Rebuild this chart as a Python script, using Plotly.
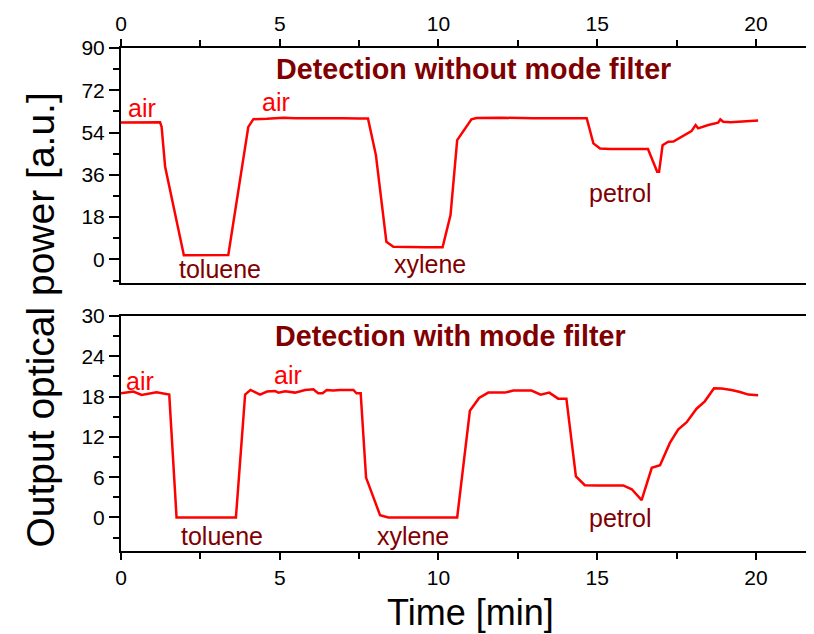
import plotly.graph_objects as go

# ---- data ----
time_top = [0, 0.5, 1.0, 1.23, 1.28, 1.39, 1.98, 2.5, 3.0, 3.38, 4.01, 4.17, 4.6, 5.11, 5.5, 6.0,
            6.5, 7.0, 7.5, 7.78, 8.03, 8.36, 8.58, 9.1, 9.6, 10.13, 10.38, 10.59, 10.73, 11.04, 11.2,
            12.0, 13.0, 14.0, 14.67, 14.88, 15.09, 15.4, 16.0, 16.6, 16.89, 16.95, 17.06, 17.24, 17.4,
            17.61, 17.82, 17.97, 18.1, 18.18, 18.5, 18.81, 18.88, 18.97, 19.2, 19.6, 20.07]
power_top = [58.3, 58.3, 58.3, 58.4, 56.4, 39.4, 1.8, 1.8, 1.9, 1.9, 56.4, 59.7, 59.9, 60.3, 60.1, 60.2,
             60.0, 60.1, 60.0, 60.0, 44.4, 7.5, 5.4, 5.2, 5.2, 5.2, 18.9, 50.8, 53.6, 59.6, 60.2,
             60.3, 60.1, 60.1, 60.1, 49.4, 47.2, 47.0, 47.0, 47.0, 37.3, 37.3, 48.6, 50.1, 50.2,
             51.9, 53.6, 54.6, 57.2, 55.8, 57.2, 58.2, 59.6, 58.6, 58.4, 58.7, 59.1]

time_bottom = [0, 0.39, 0.65, 1.12, 1.52, 1.75, 2.5, 3.0, 3.62, 3.91, 4.08, 4.38, 4.6, 4.85, 4.96,
               5.17, 5.48, 5.8, 6.06, 6.21, 6.35, 6.48, 6.69, 6.9, 7.11, 7.32, 7.42, 7.55, 7.72, 8.16,
               8.42, 9.0, 9.5, 10.0, 10.59, 10.99, 11.28, 11.57, 12.09, 12.36, 12.62, 12.93, 13.22,
               13.49, 13.77, 14.03, 14.33, 14.61, 14.98, 15.4, 15.82, 16.09, 16.4, 16.72, 16.98,
               17.29, 17.55, 17.82, 18.13, 18.39, 18.68, 18.92, 19.23, 19.5, 19.76, 20.07]
power_bottom = [18.5, 18.76, 18.26, 18.65, 18.3, 0, 0, 0, 0, 18.3, 19.0, 18.3, 18.76, 18.85, 18.6,
                18.8, 18.6, 19.0, 19.1, 18.5, 18.5, 19.0, 18.9, 19.0, 18.95, 19.0, 18.5, 18.5, 5.94, 0.34,
                0, 0, 0, 0, 0, 15.9, 17.8, 18.6, 18.6, 18.9, 18.85, 18.9, 18.3,
                18.6, 17.7, 17.7, 6.13, 4.8, 4.75, 4.75, 4.77, 4.2, 2.57, 7.4, 7.77,
                11.1, 13.1, 14.2, 16.2, 17.3, 19.25, 19.2, 19.0, 18.7, 18.3, 18.2]

x_ticks = [0, 5, 10, 15, 20]
y_ticks_top = [0, 18, 36, 54, 72, 90]
y_ticks_bottom = [0, 6, 12, 18, 24, 30]

title_top = "Detection without mode filter"
title_bottom = "Detection with mode filter"
labels_top = [("air", 0.65, 64.3, "#ff0000"), ("air", 4.88, 67.2, "#ff0000"),
              ("toluene", 3.13, -4.26, "#800000"), ("xylene", 9.73, -2.13, "#800000"),
              ("petrol", 15.75, 28.2, "#800000")]
labels_bottom = [("air", 0.6, 20.34, "#ff0000"), ("air", 5.26, 21.19, "#ff0000"),
                 ("toluene", 3.17, -2.82, "#800000"), ("xylene", 9.2, -2.82, "#800000"),
                 ("petrol", 15.75, -0.1, "#800000")]

FONT = "Liberation Sans, Arial, Helvetica, sans-serif"
RED = "#ff0000"
DARK = "#800000"

fig = go.Figure()
fig.add_trace(go.Scatter(x=time_top, y=power_top, mode="lines",
                         line=dict(color=RED, width=2.5), xaxis="x", yaxis="y", showlegend=False))
fig.add_trace(go.Scatter(x=time_bottom, y=power_bottom, mode="lines",
                         line=dict(color=RED, width=2.5), xaxis="x2", yaxis="y2", showlegend=False))

xr = [0, 21.83]
common_x = dict(range=xr, tickvals=x_ticks, showline=True, linecolor="black", linewidth=2,
                mirror=True, ticks="outside", ticklen=7, tickwidth=1.5, tickcolor="black",
                showgrid=False, zeroline=False,
                tickfont=dict(family=FONT, size=21, color="black"),
                minor=dict(dtick=2.5, tick0=0, ticks="outside", ticklen=6, tickwidth=1.5, tickcolor="black"))
common_y = dict(showline=True, linecolor="black", linewidth=2, mirror=False, ticks="outside",
                ticklen=10, tickwidth=1.5, tickcolor="black", showgrid=False, zeroline=False,
                tickfont=dict(family=FONT, size=21, color="black"))

# page body has an 8px margin, so the figure is 8px smaller and margins are shifted
fig.update_layout(
    width=806, height=626,
    margin=dict(l=113, r=0, t=40, b=83),
    plot_bgcolor="white", paper_bgcolor="white",
    xaxis=dict(common_x, side="top", anchor="y", domain=[0, 1]),
    yaxis=dict(common_y, range=[-10, 90], tickvals=y_ticks_top, domain=[0.533, 1], anchor="x",
               minor=dict(dtick=9, tick0=0, ticks="outside", ticklen=6, tickwidth=1.5, tickcolor="black")),
    xaxis2=dict(common_x, side="bottom", anchor="y2", domain=[0, 1]),
    yaxis2=dict(common_y, range=[-5, 30], tickvals=y_ticks_bottom, domain=[0, 0.467], anchor="x2",
                minor=dict(dtick=3, tick0=0, ticks="outside", ticklen=6, tickwidth=1.5, tickcolor="black")),
)

ann = []
ann.append(dict(text="<b>%s</b>" % title_top, x=11.11, y=80.95, xref="x", yref="y",
                showarrow=False, xanchor="center", yanchor="middle",
                font=dict(family=FONT, size=28.7, color=DARK)))
ann.append(dict(text="<b>%s</b>" % title_bottom, x=10.39, y=27.06, xref="x2", yref="y2",
                showarrow=False, xanchor="center", yanchor="middle",
                font=dict(family=FONT, size=28.7, color=DARK)))
for txt, x, y, c in labels_top:
    ann.append(dict(text=txt, x=x, y=y, xref="x", yref="y", showarrow=False,
                    xanchor="center", yanchor="middle", font=dict(family=FONT, size=25, color=c)))
for txt, x, y, c in labels_bottom:
    ann.append(dict(text=txt, x=x, y=y, xref="x2", yref="y2", showarrow=False,
                    xanchor="center", yanchor="middle", font=dict(family=FONT, size=25, color=c)))
ann.append(dict(text="Output optical power [a.u.]", x=-0.1162, y=0.4592, xref="paper", yref="paper",
                showarrow=False, textangle=-90, xanchor="center", yanchor="middle",
                font=dict(family=FONT, size=39, color="black")))
ann.append(dict(text="Time [min]", x=0.504, y=-0.1229, xref="paper", yref="paper",
                showarrow=False, xanchor="center", yanchor="middle",
                font=dict(family=FONT, size=36, color="black")))
fig.update_layout(annotations=ann)

fig.write_html("out.html")
